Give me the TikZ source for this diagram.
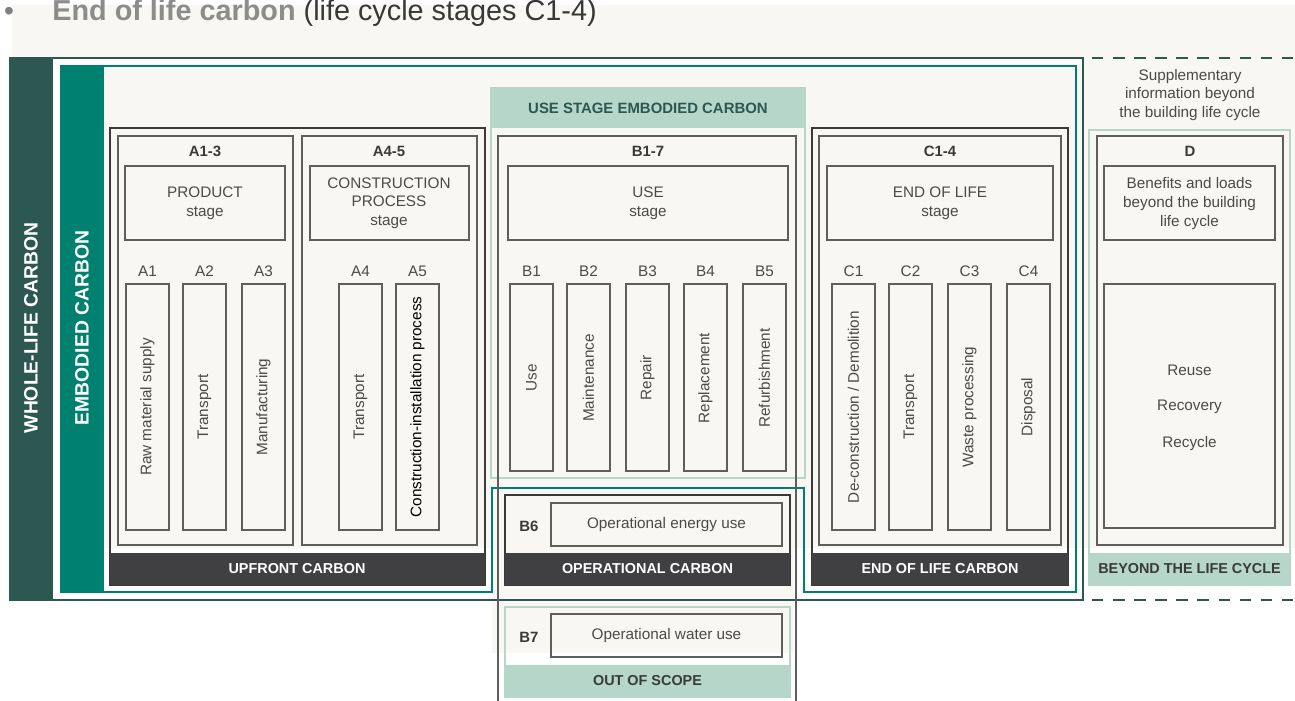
\documentclass[tikz,border=0pt]{standalone}
\usepackage{fontspec}
\setmainfont{Liberation Sans}
\usepackage{tikz}

\definecolor{cream}{HTML}{F8F7F4}
\definecolor{wlcteal}{HTML}{2D5751}
\definecolor{embteal}{HTML}{00806F}
\definecolor{usegreen}{HTML}{B5D6C9}
\definecolor{bandgray}{HTML}{404042}
\definecolor{boxgray}{HTML}{5E5E5E}
\definecolor{txtgray}{HTML}{4A4A4A}
\definecolor{outgray}{HTML}{3A3A3A}

\tikzset{
  stagebox/.style={draw=boxgray, line width=0.7pt},
  outbox/.style={draw=outgray, line width=1.4pt},
  txt/.style={inner sep=0pt, align=center, text=txtgray, font=\fontsize{8.7}{10.6}\selectfont},
  code/.style={inner sep=0pt, text=outgray, font=\bfseries\fontsize{8.5}{10}\selectfont},
  coltxt/.style={txt, rotate=90},
  bandtxt/.style={inner sep=0pt, text=white, font=\bfseries\fontsize{8.2}{10}\selectfont},
  sidetxt/.style={inner sep=0pt, text=white, rotate=90, font=\bfseries\fontsize{11}{13}\selectfont},
}

\begin{document}
\begin{tikzpicture}[x=0.02cm,y=-0.02cm]
\useasboundingbox (0,0) rectangle (1295,700);
% background
\fill[cream] (12,5) rectangle (1295,548);
\fill[white] (53,58) rectangle (1083,64);
\fill[white] (53,58) rectangle (60,600);
\fill[cream] (492,548) rectangle (794,653);
% title line
\node[inner sep=0pt, text=gray] (dot) at (9,14) {\fontsize{16}{18}\selectfont •};
\node[inner sep=0pt, anchor=base west, font=\fontsize{16.4}{18}\selectfont] (title) at (52,20)
  {\textcolor{black!45}{\bfseries End of life carbon} \textcolor{black!78}{(life cycle stages C1-4)}};

% whole-life and embodied frames
\fill[wlcteal] (9,57) rectangle (53,600);
\draw[wlcteal, line width=1.3pt] (53,58) -- (1083,58) -- (1083,600) -- (9,600);
\draw[wlcteal, line width=1.3pt, dash pattern=on 6.5pt off 5.5pt] (1092,58) -- (1295,58);
\draw[wlcteal, line width=1.3pt, dash pattern=on 6.5pt off 5.5pt] (1092,600) -- (1295,600);
\fill[embteal] (60,65) rectangle (104,592);
\draw[embteal, line width=1.1pt] (104,66) -- (1076,66) -- (1076,592) -- (804,592) -- (804,488)
  -- (492,488) -- (492,592) -- (60,592);
\node[sidetxt] (wlc) at (31,328) {WHOLE-LIFE CARBON};
\node[sidetxt] (emb) at (82,328) {EMBODIED CARBON};

\node[txt] (supp) at (1190,95) {Supplementary\\information beyond\\the building life cycle};

% upfront A1-5
\draw[outbox] (110,128) rectangle (485,585);
\fill[bandgray] (110,553) rectangle (485,585);
\node[bandtxt] (upfront) at (297,569) {UPFRONT CARBON};
\draw[stagebox] (118,136) rectangle (293,545);
\draw[stagebox] (302,136) rectangle (477,545);
\node[code] (a13) at (205,151) {A1-3};
\node[code] (a45) at (389,151) {A4-5};
\draw[stagebox] (125,166) rectangle (285,240);
\node[txt] (product) at (205,203) {PRODUCT\\stage};
\draw[stagebox] (310,166) rectangle (469,240);
\node[txt] (constr) at (389,203) {CONSTRUCTION\\PROCESS\\stage};
\foreach \x/\m/\t in {126/A1/Raw material supply, 183/A2/Transport, 242/A3/Manufacturing, 339/A4/Transport}{
  \draw[stagebox] (\x,284) rectangle (\x+43,530);
  \node[txt] (lab-\m) at (\x+21.5,271) {\m};
  \node[coltxt] (col-\m) at (\x+21.5,407) {\t};
}
\draw[stagebox] (396,284) rectangle (439,530);
\node[txt] (lab-A5) at (417.5,271) {A5};
\node[coltxt, text=black] (col-A5) at (417.5,407) {Construction-installation process};

% use stage B1-7
\fill[usegreen] (490,87) rectangle (806,128);
\draw[usegreen, line width=1.4pt] (491,128) -- (491,478) -- (805,478) -- (805,128);
\node[code, text=wlcteal] (usehead) at (648,108) {USE STAGE EMBODIED CARBON};
\draw[stagebox] (498,705) -- (498,136) -- (796,136) -- (796,705);
\node[code] (b17) at (648,151) {B1-7};
\draw[stagebox] (508,166) rectangle (788,240);
\node[txt] (usestage) at (648,203) {USE\\stage};
\foreach \x/\m/\t in {510/B1/Use, 567/B2/Maintenance, 626/B3/Repair, 684/B4/Replacement, 743/B5/Refurbishment}{
  \draw[stagebox] (\x,284) rectangle (\x+43,471);
  \node[txt] (lab-\m) at (\x+21.5,271) {\m};
  \node[coltxt] (col-\m) at (\x+21.5,378) {\t};
}
% operational B6
\draw[outbox] (505,495) rectangle (790,585);
\fill[bandgray] (505,553) rectangle (790,585);
\node[bandtxt] (opcarbon) at (647.5,569) {OPERATIONAL CARBON};
\node[code] (b6) at (529,526) {B6};
\draw[stagebox] (551,503) rectangle (782,546);
\node[txt] (energy) at (666.5,524.5) {Operational energy use};
% out of scope B7
\draw[usegreen, line width=1.4pt] (505,607) rectangle (790,697);
\fill[usegreen] (505,665) rectangle (790,697);
\node[bandtxt, text=outgray] (scope) at (647.5,681) {OUT OF SCOPE};
\node[code] (b7) at (529,637) {B7};
\draw[stagebox] (551,614) rectangle (782,657);
\node[txt] (water) at (666.5,635.5) {Operational water use};

% end of life C1-4
\draw[outbox] (812,128) rectangle (1068,585);
\fill[bandgray] (812,553) rectangle (1068,585);
\node[bandtxt] (eolcarbon) at (940,569) {END OF LIFE CARBON};
\draw[stagebox] (819,136) rectangle (1061,545);
\node[code] (c14) at (940,151) {C1-4};
\draw[stagebox] (827,166) rectangle (1053,240);
\node[txt] (eolstage) at (940,203) {END OF LIFE\\stage};
\foreach \x/\m/\t in {832/C1/{De-construction / Demolition}, 889/C2/Transport, 948/C3/Waste processing, 1007/C4/Disposal}{
  \draw[stagebox] (\x,284) rectangle (\x+43,530);
  \node[txt] (lab-\m) at (\x+21.5,271) {\m};
  \node[coltxt] (col-\m) at (\x+21.5,407) {\t};
}

% beyond D
\draw[usegreen, line width=1.4pt] (1089,130) rectangle (1290,585);
\fill[usegreen] (1089,553) rectangle (1290,585);
\node[bandtxt, text=outgray] (beyond) at (1189.5,569) {BEYOND THE LIFE CYCLE};
\draw[stagebox] (1097,136) rectangle (1283,545);
\node[code] (d) at (1190,151) {D};
\draw[stagebox] (1104,166) rectangle (1275,240);
\node[txt] (benefits) at (1189.5,203.5) {Benefits and loads\\beyond the building\\life cycle};
\draw[stagebox] (1104,284) rectangle (1275,528);
\foreach \y/\t in {370/Reuse, 407/Recovery, 444/Recycle}
  \node[txt] (d-\t) at (1189.5,\y) {\t};
\end{tikzpicture}
\end{document}
